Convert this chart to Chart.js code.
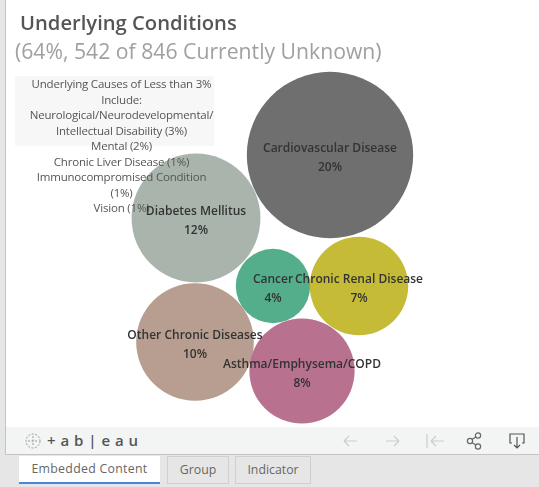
<!DOCTYPE html>
<html>
<head>
<meta charset="utf-8">
<script src="https://cdn.jsdelivr.net/npm/chart.js@4"></script>
<style>
  html, body { margin: 0; padding: 0; background: #e6e6e6; }
  body { width: 539px; height: 487px; overflow: hidden; position: relative; font-family: "Open Sans", sans-serif; }
  #viz { position: absolute; left: 5px; top: 0; width: 534px; height: 455px; background: #fff; border-left: 1px solid #c4c4c4; border-bottom: 1px solid #c4c4c4; box-sizing: border-box; }
  #chartBox { position: absolute; left: 0; top: 0; width: 539px; height: 487px; }
  #title { position: absolute; left: 20px; top: 8px; font-size: 20.2px; font-weight: 600; color: #555; white-space: nowrap; }
  #subtitle { position: absolute; left: 15px; top: 36px; font-size: 21.2px; color: #a0a0a0; white-space: nowrap; }
  #noteBg { position: absolute; left: 15px; top: 76px; width: 199px; height: 70px; background: #f7f7f7; }
  #note { position: absolute; left: 22px; top: 76px; width: 199px; text-align: center; font-size: 11.5px; line-height: 15.5px; color: #555; letter-spacing: -0.2px; white-space: nowrap; }
  #toolbar { position: absolute; left: 6px; top: 427px; width: 533px; height: 27px; background: #f3f5f4; }
  #logo { position: absolute; left: 47px; top: 430px; font-size: 15px; font-weight: 600; color: #555; letter-spacing: 0.5px; white-space: nowrap; }
  .tab { position: absolute; top: 456px; height: 28px; line-height: 26px; text-align: center; font-size: 12.3px; color: #666; background: #e6e6e6; border: 1px solid #cfcfcf; box-sizing: border-box; }
  #tab1 { left: 19px; width: 141px; background: #fff; border: none; border-bottom: 2px solid #4c86dc; height: 28px; letter-spacing: 0.3px; }
  #tab2 { left: 167px; width: 62px; }
  #tab3 { left: 235px; width: 76px; }
  svg { position: absolute; }
</style>
</head>
<body>
<div id="viz"></div>
<div id="noteBg"></div>
<div id="chartBox"><canvas id="bubbleChart" width="539" height="487"></canvas></div>
<div id="title">Underlying Conditions</div>
<div id="subtitle">(64%, 542 of 846 Currently Unknown)</div>
<div id="note">Underlying Causes of Less than 3%<br>Include:<br>Neurological/Neurodevelopmental/<br>Intellectual Disability (3%)<br>Mental (2%)<br>Chronic Liver Disease (1%)<br>Immunocompromised Condition<br>(1%)<br>Vision (1%)</div>
<div id="toolbar"></div>
<svg style="left:23px;top:431px" width="20" height="20" fill="none" stroke="#999" stroke-width="1" stroke-dasharray="2 1.5">
  <circle cx="10" cy="10" r="7"/><path d="M10 5v10M5 10h10"/>
</svg>
<div id="logo">+ a b | e a u</div>
<svg style="left:340px;top:431px" width="190" height="20" fill="none" stroke-width="1.2">
  <path d="M4 10h13M4 10l5-5M4 10l5 5" stroke="#ccc"/>
  <path d="M46 10h13M59 10l-5-5M59 10l-5 5" stroke="#ccc"/>
  <path d="M87 3v14M91 10h13M91 10l5-5M91 10l5 5" stroke="#ccc"/>
  <circle cx="130" cy="10" r="2.6" stroke="#666"/><circle cx="138" cy="4.5" r="2.6" stroke="#666"/><circle cx="138" cy="15.5" r="2.6" stroke="#666"/>
  <path d="M132 8.5l3.8-2.6M132 11.5l3.8 2.6" stroke="#666"/>
  <path d="M172 12h-2v-9h14v9h-2M177 6v11M174 14l3 3 3-3" stroke="#555"/>
</svg>
<div class="tab" id="tab1">Embedded Content</div>
<div class="tab" id="tab2">Group</div>
<div class="tab" id="tab3">Indicator</div>

<script>
// values
const categories = ["Cardiovascular Disease", "Diabetes Mellitus", "Cancer", "Chronic Renal Disease", "Other Chronic Diseases", "Asthma/Emphysema/COPD"];
const percents = [20, 12, 4, 7, 10, 8];
// where the packed circles sit, in page units
const packX = [330, 196, 273, 359, 195, 302];
const packY = [155, 218, 286, 286, 342, 371];
const colors = ["#6f6f6f", "#a9b5ac", "#54ae8b", "#c6bb37", "#b79e90", "#b97190"];

const bubbleScale = 18.6; // area goes with percent

const labelPlugin = {
  id: "bubbleLabels",
  afterDatasetsDraw(chart) {
    const ctx = chart.ctx;
    const points = chart.getDatasetMeta(0).data;
    ctx.save();
    ctx.font = "600 12px 'Open Sans', sans-serif";
    ctx.fillStyle = "#333";
    ctx.textAlign = "center";
    ctx.textBaseline = "middle";
    points.forEach((pt, i) => {
      ctx.fillText(categories[i], pt.x, pt.y - 6);
      ctx.fillText(percents[i] + "%", pt.x, pt.y + 13);
    });
    ctx.restore();
  },
};

const configBubble = {
  type: "bubble",
  data: {
    labels: categories,
    datasets: [
      {
        label: "Underlying Conditions",
        data: percents.map((p, i) => ({ x: packX[i], y: packY[i], r: bubbleScale * Math.sqrt(p) })),
        backgroundColor: colors,
        borderWidth: 0,
        hoverBorderWidth: 0,
      },
    ],
  },
  options: {
    responsive: false,
    animation: false,
    clip: false,
    layout: { padding: 0, autoPadding: false },
    plugins: {
      legend: { display: false },
      tooltip: { enabled: false },
    },
    scales: {
      x: { type: "linear", display: false, min: 0, max: 539 },
      y: { type: "linear", display: false, min: 0, max: 487, reverse: true },
    },
  },
  plugins: [labelPlugin],
};

const bubbleChart = new Chart(document.getElementById("bubbleChart"), configBubble);
</script>
</body>
</html>
